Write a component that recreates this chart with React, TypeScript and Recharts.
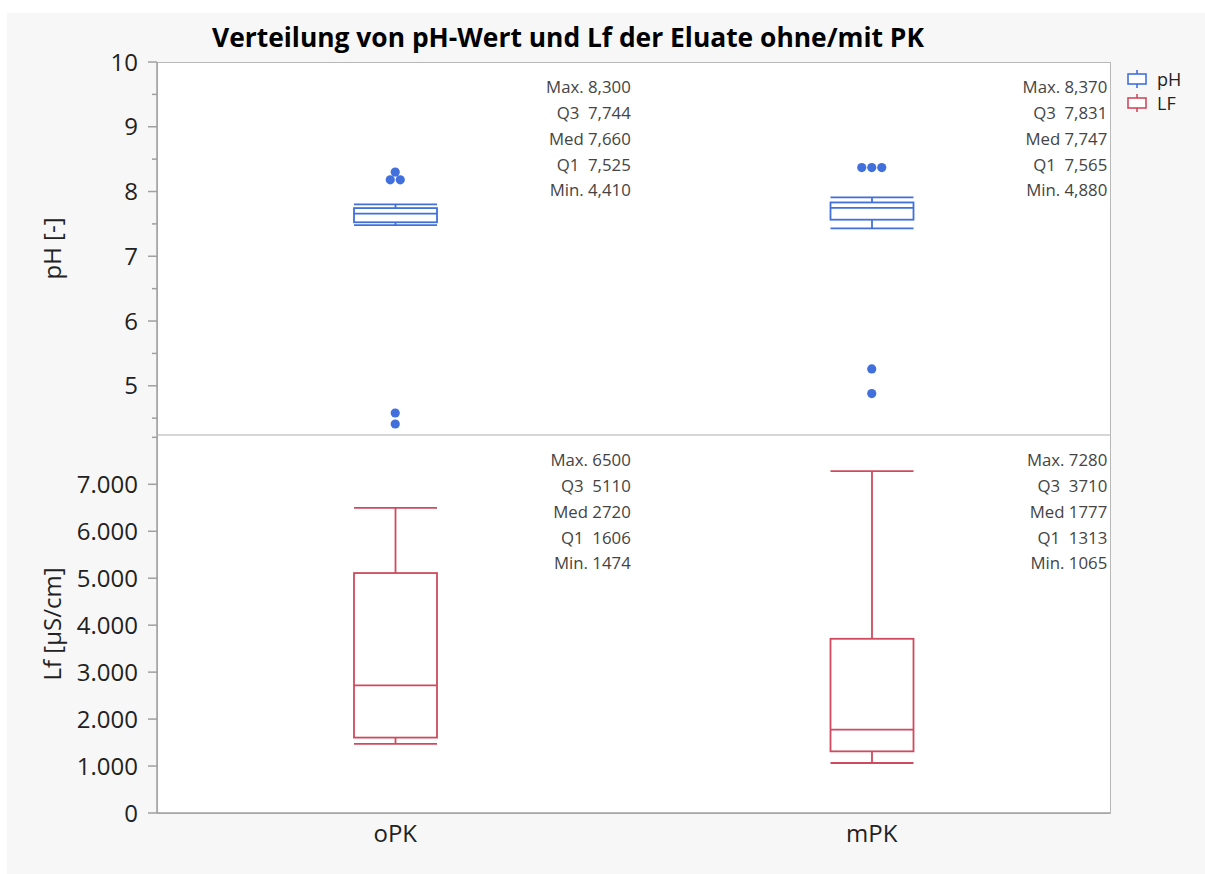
import React from 'react';
import { ComposedChart, Bar, Scatter, XAxis, YAxis, Legend } from 'recharts';

const categories = ['oPK', 'mPK'];

// pH per group: whisker ends, quartiles, median, overall min/max
const phWhiskerLow = [7.48, 7.43];
const phQ1 = [7.525, 7.565];
const phMedian = [7.66, 7.747];
const phQ3 = [7.744, 7.831];
const phWhiskerHigh = [7.8, 7.91];
const phMin = [4.41, 4.88];
const phMax = [8.3, 8.37];
const phOutliers = [
  [8.3, 8.18, 8.18, 4.58, 4.41],
  [8.37, 8.37, 8.37, 5.26, 4.88],
];

// Lf in µS/cm, no outliers
const lfMin = [1474, 1065];
const lfQ1 = [1606, 1313];
const lfMedian = [2720, 1777];
const lfQ3 = [5110, 3710];
const lfMax = [6500, 7280];

const phTicks = [4.5, 5, 5.5, 6, 6.5, 7, 7.5, 8, 8.5, 9, 9.5, 10];
const lfTicks = [0, 1000, 2000, 3000, 4000, 5000, 6000, 7000, 8000];
const statLabels = ['Max.', 'Q3 ', 'Med', 'Q1 ', 'Min.'];
const legendLabels = ['pH', 'LF'];

const FONT = '"Open Sans", "Noto Sans", sans-serif';
const PH_COLOR = '#4170DC';
const LF_COLOR = '#CF4A5E';
const AXIS_GREY = '#a0a0a0';

const W = 1205;
const H = 874;
const PLOT_LEFT = 157;
const PLOT_RIGHT = 1110;
const PLOT_TOP = 62;
const SPLIT = 435;
const PLOT_BOTTOM = 813;
const BAND = (PLOT_RIGHT - PLOT_LEFT) / categories.length;
const TICK_SIZE = 9;
const TICK_MARGIN = 10;

const phRows = categories.map((name, i) => ({
  name,
  lo: phWhiskerLow[i],
  q1: phQ1[i],
  med: phMedian[i],
  q3: phQ3[i],
  hi: phWhiskerHigh[i],
  range: [phWhiskerLow[i], phWhiskerHigh[i]],
  stats: [phMax[i], phQ3[i], phMedian[i], phQ1[i], phMin[i]],
}));

const lfRows = categories.map((name, i) => ({
  name,
  lo: lfMin[i],
  q1: lfQ1[i],
  med: lfMedian[i],
  q3: lfQ3[i],
  hi: lfMax[i],
  range: [lfMin[i], lfMax[i]],
  stats: [lfMax[i], lfQ3[i], lfMedian[i], lfQ1[i], lfMin[i]],
}));

// equal outlier values get spread sideways so they don't sit on top of each other
const phOutlierRows = categories.flatMap((name, i) =>
  phOutliers[i].map((value, j, all) => {
    const same = all.filter((v) => v === value).length;
    const rank = all.slice(0, j).filter((v) => v === value).length;
    return { name, value, dodge: rank - (same - 1) / 2 };
  })
);

const fmtPh = (v: number) => v.toFixed(3).replace('.', ',');
const fmtLf = (v: number) => String(v);
const fmtThousands = (v: number) =>
  v >= 1000 ? `${Math.floor(v / 1000)}.${String(v % 1000).padStart(3, '0')}` : String(v);

const boxShape = (color: string) => (props: any) => {
  const { x, y, width, height, payload } = props;
  const top = Math.min(y, y + height);
  const bottom = Math.max(y, y + height);
  const { lo, hi, q1, med, q3 } = payload;
  const py = (v: number) => top + ((hi - v) / (hi - lo)) * (bottom - top);
  const cx = x + width / 2;
  const sw = 1.8;
  return (
    <g stroke={color} strokeWidth={sw} fill="none">
      <line x1={x} x2={x + width} y1={top} y2={top} />
      <line x1={x} x2={x + width} y1={bottom} y2={bottom} />
      <line x1={cx} x2={cx} y1={top} y2={py(q3)} />
      <line x1={cx} x2={cx} y1={py(q1)} y2={bottom} />
      <rect x={x} y={py(q3)} width={width} height={py(q1) - py(q3)} fill="#fff" />
      <line x1={x} x2={x + width} y1={py(med)} y2={py(med)} />
    </g>
  );
};

// summary block in the upper right corner of each group's band
const statBlock = (fmt: (v: number) => string, rows: any[]) => (props: any) => {
  const { x, y, width, index } = props;
  const row = props.payload ?? rows[index];
  const right = x + width / 2 + BAND / 2 - 3;
  return (
    <g>
      {statLabels.map((lab, k) => (
        <text
          key={lab}
          x={right}
          y={y + 25 + k * 25.9}
          dy="0.35em"
          textAnchor="end"
          fontSize={16.8}
          fill="#444"
          fontFamily={FONT}
          style={{ whiteSpace: 'pre' }}
        >
          {`${lab} ${fmt(row.stats[k])}`}
        </text>
      ))}
    </g>
  );
};

const outlierDot = (props: any) => {
  const { cx, cy, payload } = props;
  return <circle cx={cx + payload.dodge * 10} cy={cy} r={4.6} fill={PH_COLOR} />;
};

const yTick = (format: (v: number) => string, isMajor: (v: number) => boolean) => (props: any) => {
  const { x, y, payload } = props;
  const axisX = x + TICK_SIZE + TICK_MARGIN;
  const major = isMajor(payload.value);
  return (
    <g>
      <line x1={axisX - (major ? TICK_SIZE : 5)} x2={axisX} y1={y} y2={y} stroke={AXIS_GREY} strokeWidth={1.5} />
      {major && (
        <text x={x} y={y} dy="0.36em" textAnchor="end" fontSize={24} fill="#222" fontFamily={FONT}>
          {format(payload.value)}
        </text>
      )}
    </g>
  );
};

const axisTitle = (text: string) => (props: any) => {
  const { viewBox } = props;
  const cx = viewBox.x + 51;
  const cy = viewBox.y + viewBox.height / 2;
  return (
    <text
      x={cx}
      y={cy}
      transform={`rotate(-90, ${cx}, ${cy})`}
      textAnchor="middle"
      dominantBaseline="central"
      fontSize={24}
      fill="#222"
      fontFamily={FONT}
    >
      {text}
    </text>
  );
};

const renderLegend = () => {
  const colors = [PH_COLOR, LF_COLOR];
  return (
    <div style={{ fontFamily: FONT }}>
      {legendLabels.map((label, i) => (
        <div key={label} style={{ display: 'flex', alignItems: 'center', height: 24 }}>
          <svg width={22} height={22}>
            <g stroke={colors[i]} strokeWidth={1.6} fill="none">
              <line x1={11} x2={11} y1={2} y2={20} />
              <rect x={2} y={6} width={18} height={10} fill="#fff" />
            </g>
          </svg>
          <span style={{ marginLeft: 9, fontSize: 18, color: '#222' }}>{label}</span>
        </div>
      ))}
    </div>
  );
};

export default function App() {
  return (
    <div style={{ position: 'absolute', left: 0, top: 0, width: W, height: H, background: '#fff', fontFamily: FONT }}>
      <div style={{ position: 'absolute', left: 7, top: 13, right: 0, bottom: 0, background: '#f7f7f7' }} />
      <div
        style={{
          position: 'absolute',
          left: 0,
          top: 20,
          width: 1136,
          textAlign: 'center',
          fontSize: 26.4,
          fontWeight: 700,
          lineHeight: '34px',
          color: '#000',
        }}
      >
        Verteilung von pH-Wert und Lf der Eluate ohne/mit PK
      </div>
      {/* plot frame with the divider between the two panels */}
      <div
        style={{
          position: 'absolute',
          left: PLOT_LEFT,
          top: PLOT_TOP,
          width: PLOT_RIGHT - PLOT_LEFT + 1,
          height: PLOT_BOTTOM - PLOT_TOP + 1,
          boxSizing: 'border-box',
          background: '#fff',
          border: '1px solid #b8b8b8',
        }}
      />
      <div
        style={{
          position: 'absolute',
          left: PLOT_LEFT,
          top: SPLIT - 1,
          width: PLOT_RIGHT - PLOT_LEFT,
          height: 2,
          background: '#d6d6d6',
        }}
      />

      {/* upper panel: pH */}
      <div style={{ position: 'absolute', left: 0, top: 0 }}>
        <ComposedChart
          width={W}
          height={SPLIT}
          data={phRows}
          margin={{ top: PLOT_TOP, right: W - PLOT_RIGHT, bottom: 0, left: 0 }}
        >
          <XAxis dataKey="name" type="category" allowDuplicatedCategory={false} hide />
          <YAxis
            type="number"
            width={PLOT_LEFT}
            domain={[4.24, 10]}
            allowDataOverflow
            ticks={phTicks}
            interval={0}
            tickSize={TICK_SIZE}
            tickMargin={TICK_MARGIN}
            tickLine={false}
            axisLine={{ stroke: AXIS_GREY, strokeWidth: 1.5 }}
            tick={yTick((v) => String(v), (v) => Number.isInteger(v))}
            label={axisTitle('pH [-]')}
          />
          <Bar
            dataKey="range"
            barSize={83}
            isAnimationActive={false}
            shape={boxShape(PH_COLOR)}
            background={statBlock(fmtPh, phRows)}
          />
          <Scatter data={phOutlierRows} dataKey="value" isAnimationActive={false} shape={outlierDot} />
          <Legend
            layout="vertical"
            align="center"
            verticalAlign="middle"
            content={renderLegend}
            wrapperStyle={{ left: 1126, top: 67, width: 79 }}
          />
        </ComposedChart>
      </div>

      {/* lower panel: Lf */}
      <div style={{ position: 'absolute', left: 0, top: SPLIT }}>
        <ComposedChart
          width={W}
          height={H - SPLIT}
          data={lfRows}
          margin={{ top: 0, right: W - PLOT_RIGHT, bottom: 0, left: 0 }}
        >
          <XAxis
            dataKey="name"
            type="category"
            allowDuplicatedCategory={false}
            height={H - PLOT_BOTTOM}
            tickLine={false}
            tickSize={0}
            tickMargin={12}
            axisLine={{ stroke: AXIS_GREY, strokeWidth: 1.5 }}
            tick={{ fontSize: 24, fill: '#222', fontFamily: FONT }}
          />
          <YAxis
            type="number"
            width={PLOT_LEFT}
            domain={[0, 8050]}
            allowDataOverflow
            ticks={lfTicks}
            interval={0}
            tickSize={TICK_SIZE}
            tickMargin={TICK_MARGIN}
            tickLine={false}
            axisLine={{ stroke: AXIS_GREY, strokeWidth: 1.5 }}
            tick={yTick(fmtThousands, (v) => v < 8000)}
            label={axisTitle('Lf [µS/cm]')}
          />
          <Bar
            dataKey="range"
            barSize={83}
            isAnimationActive={false}
            shape={boxShape(LF_COLOR)}
            background={statBlock(fmtLf, lfRows)}
          />
        </ComposedChart>
      </div>
    </div>
  );
}
